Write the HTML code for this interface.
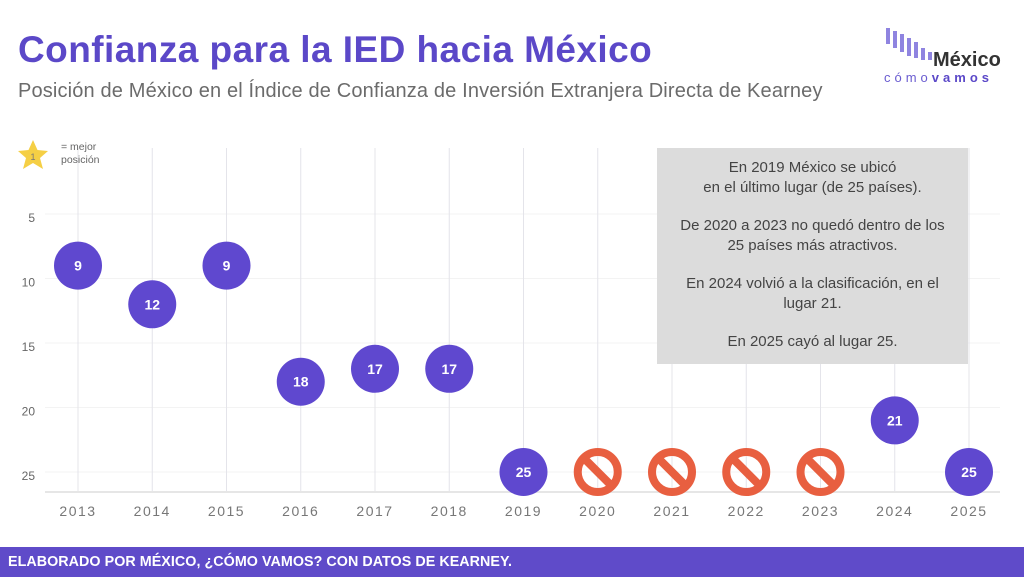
<!DOCTYPE html>
<html><head><meta charset="utf-8">
<style>
body{margin:0;width:1024px;height:577px;background:#fff;font-family:"Liberation Sans","DejaVu Sans",sans-serif;overflow:hidden;position:relative}
.title{position:absolute;left:18px;top:29px;font-size:37px;font-weight:bold;color:#5b48c8;letter-spacing:0.45px}
.sub{position:absolute;left:18px;top:80px;font-size:20px;color:#6b6b6b;letter-spacing:0.15px}
.footer{position:absolute;left:0;top:547px;width:1024px;height:30px;background:#5f4bc9;color:#fff;font-weight:bold;font-size:14.3px;line-height:31px;padding-left:8px;box-sizing:border-box;letter-spacing:0.05px}
.note{position:absolute;left:657px;top:148px;width:311px;height:216px;background:#dcdcdc;color:#444;font-size:15px;text-align:center;line-height:19.5px;box-sizing:border-box;padding-top:10px}
.note p{margin:0 0 19px 0}
</style></head><body>
<div class="title">Confianza para la IED hacia México</div>
<div class="sub">Posición de México en el Índice de Confianza de Inversión Extranjera Directa de Kearney</div>
<svg id="logo" style="position:absolute;left:880px;top:28px" width="140" height="60">
<g fill="#8f84e0"><rect x="6" y="0" width="4" height="16"/><rect x="13" y="3" width="4" height="17"/><rect x="20" y="6" width="4" height="18"/><rect x="27" y="10" width="4" height="18"/><rect x="34" y="14" width="4" height="16"/><rect x="41" y="20" width="4" height="12"/><rect x="48" y="24" width="4" height="8"/></g>
<text x="53" y="38" font-size="20" font-weight="bold" fill="#333" font-family="Liberation Sans, sans-serif">México</text>
<text x="4" y="54" font-size="13" fill="#6a5cd0" letter-spacing="4" font-family="Liberation Sans, sans-serif">cómo<tspan font-weight="bold" fill="#5b48c8">vamos</tspan></text>
</svg>
<svg id="chart" width="1024" height="577" style="position:absolute;left:0;top:0"></svg>
<div class="note">
<p>En 2019 México se ubicó<br>en el último lugar (de 25 países).</p>
<p>De 2020 a 2023 no quedó dentro de los<br>25 países más atractivos.</p>
<p>En 2024 volvió a la clasificación, en el<br>lugar 21.</p>
<p>En 2025 cayó al lugar 25.</p>
</div>
<div class="footer">ELABORADO POR MÉXICO, ¿CÓMO VAMOS? CON DATOS DE KEARNEY.</div>
<script>
const years=[2013,2014,2015,2016,2017,2018,2019,2020,2021,2022,2023,2024,2025];
const ranks=[9,12,9,18,17,17,25,null,null,null,null,21,25];
const yTicks=[5,10,15,20,25];
const NS="http://www.w3.org/2000/svg";
const svg=document.getElementById('chart');
function x(i){return 78+i*74.25;}
function y(v){return 214+(v-5)*12.9;}
function mk(t,a,p){const e=document.createElementNS(NS,t);for(const k in a)e.setAttribute(k,a[k]);(p||svg).appendChild(e);return e;}
yTicks.forEach(v=>{
 const g=mk('line',{x1:45,x2:1000,y1:y(v),y2:y(v),stroke:'#f3f3f3','stroke-width':1});
 
 
 const t=mk('text',{x:35,y:y(v)+8,'text-anchor':'end','font-size':12,fill:'#666'});
 t.textContent=v;
 
 
});
years.forEach((yr,i)=>{
 const g=mk('line',{x1:x(i),x2:x(i),y1:148,y2:492,stroke:'#e4e4ea','stroke-width':1});
 
 
 const t=mk('text',{x:x(i),y:516,'text-anchor':'middle','font-size':14,fill:'#777','letter-spacing':'1.5'});
 t.textContent=yr;
 
 
});
const ax=mk('line',{x1:45,x2:1000,y1:492,y2:492,stroke:'#e6e6e6','stroke-width':2});


years.forEach((yr,i)=>{
 const v=ranks[i];
 if(v===null){
  const g=mk('g',{transform:`translate(${x(i)},${y(25)})`});
  
  
  mk('circle',{r:20,fill:'none',stroke:'#e85f40','stroke-width':8},g);
  mk('line',{x1:-14,y1:-14,x2:14,y2:14,stroke:'#e85f40','stroke-width':8},g);
 } else {
  const c=mk('circle',{cx:x(i),cy:y(v),r:24,fill:'#5f48cf'});
  
  
  const t=mk('text',{x:x(i),y:y(v)+5,'text-anchor':'middle','font-size':14,'font-weight':'bold',fill:'#fff'});
  t.textContent=v;
  
  
 }
});
const s=mk('polygon',{points:'33,140 37.5,150 48,151 40,158 43,169 33,163 23,169 26,158 18,151 28.5,150',fill:'#f5cf45'});


const st=mk('text',{x:33,y:160,'text-anchor':'middle','font-size':9,fill:'#777'});st.textContent='1';
const l1=mk('text',{x:61,y:150,'font-size':10.5,fill:'#666'});l1.textContent='= mejor';


const l2=mk('text',{x:61,y:163,'font-size':10.5,fill:'#666'});l2.textContent='posición';
</script>
</body></html>
